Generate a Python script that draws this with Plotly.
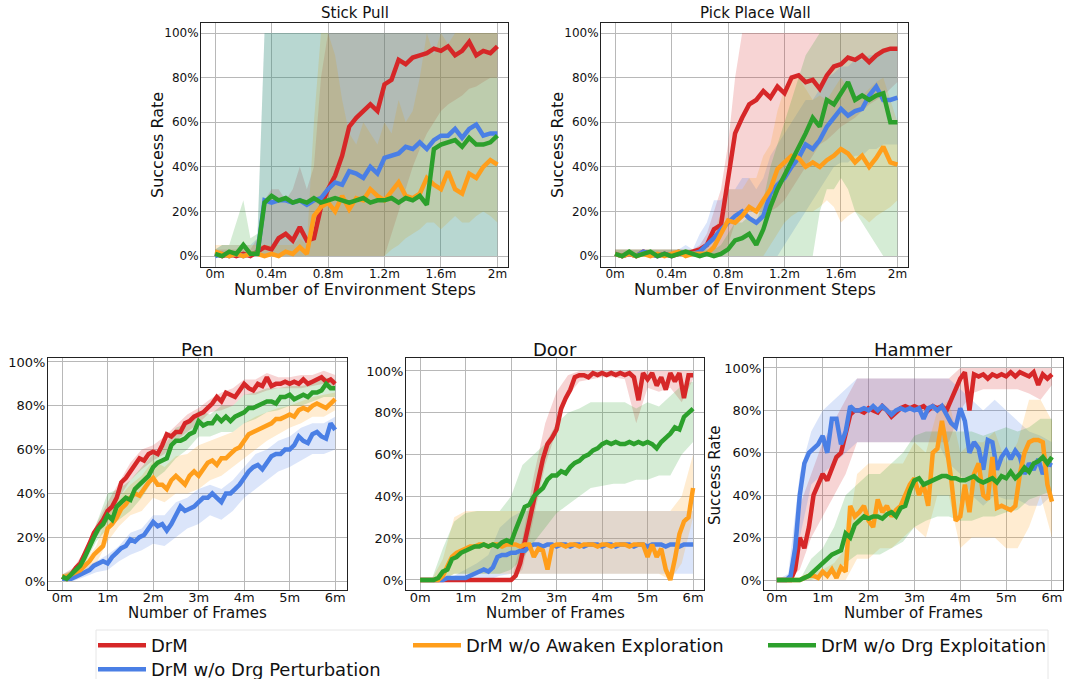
import plotly.graph_objects as go

# ---------------- series meta ----------------
SERIES = ["DrM", "DrM w/o Drg Perturbation", "DrM w/o Awaken Exploration", "DrM w/o Drg Exploitation"]
COLORS = ["#d62728", "#4a7fe5", "#ff9e1b", "#2ca02c"]
FILLS = ["rgba(214,39,40,0.2)", "rgba(74,127,229,0.2)", "rgba(255,158,27,0.2)", "rgba(44,160,44,0.2)"]

# x grids (millions of steps / frames)
top_steps = [round(0.05 * i, 2) for i in range(41)]
bottom_frames = [round(0.1 * i, 1) for i in range(61)]
bottom_band_frames = [round(0.25 * i, 2) for i in range(25)]

top_xticks = [0, 0.4, 0.8, 1.2, 1.6, 2.0]
top_xticklabels = ["0m", "0.4m", "0.8m", "1.2m", "1.6m", "2m"]
bottom_xticks = [0, 1, 2, 3, 4, 5, 6]
bottom_xticklabels = ["0m", "1m", "2m", "3m", "4m", "5m", "6m"]
yticks = [0, 20, 40, 60, 80, 100]
yticklabels = ["0%", "20%", "40%", "60%", "80%", "100%"]

# ---------------- Stick Pull ----------------
stick_red = [1,0,1,0,1,0,2,4,3,8,10,7,13,7,8,22,30,36,45,58,62,65,68,65,77,79,88,86,89,90,91,93,92,94,90,92,96,90,92,91,94]
stick_blue = [0,1,0,1,0,1,1,25,24,25,25,24,25,23,25,26,30,33,32,38,37,35,40,37,44,45,46,49,48,51,48,52,54,54,57,53,57,59,54,55,55]
stick_orange = [2,1,0,1,0,1,1,0,1,0,2,1,4,1,18,22,24,20,27,21,26,25,30,27,25,29,33,27,26,28,35,32,30,38,30,28,37,35,40,43,41]
stick_green = [1,0,2,1,5,1,1,24,27,25,26,24,25,24,26,24,25,26,25,24,25,26,24,25,25,26,24,26,25,27,23,48,50,51,52,49,53,50,50,51,54]

stick_red_hi = [3,3,3,3,3,3,8,25,30,30,25,30,40,30,40,80] + [100]*25
stick_red_lo = [0]*25 + [10,20,30,40,48,55,60,65,68,70,72,75,76,78,80,80]
stick_blue_hi = [3,5,5,5,5,5,8] + [100]*34
stick_blue_lo = [0]*41
stick_orange_hi = [5,5,5,5,5,5,5,5,5,5,5,5,8,5,60,100,100,90,70,55,50,60,55,50,60,55,70,60,65,80,100,90,100,95,100,100,100,100,100,100,100]
stick_orange_lo = [0]*25 + [3,5,8,10,12,15,15,12,15,18,15,15,18,20,18,15]
stick_green_hi = [3,5,5,15,25,8,10] + [100]*34
stick_green_lo = [0]*41

# ---------------- Pick Place Wall ----------------
ppw_red = [1,0,1,0,2,1,0,1,0,1,1,2,3,5,12,14,35,55,62,68,70,74,71,76,73,80,81,78,79,75,81,85,86,89,88,90,87,90,92,93,93]
ppw_blue = [1,0,1,0,2,1,0,1,0,2,1,1,2,5,8,12,15,18,20,17,15,18,28,32,35,40,44,50,48,52,58,62,66,63,65,66,72,76,70,70,71]
ppw_orange = [1,0,1,0,1,0,1,0,1,2,0,1,1,1,4,10,16,15,18,22,20,25,30,39,42,45,44,40,42,40,43,45,48,46,42,45,40,44,49,42,41]
ppw_green = [1,0,2,0,1,2,0,1,0,1,2,1,0,1,0,1,3,7,8,10,5,12,22,30,36,42,48,55,62,58,70,68,73,78,70,72,70,72,73,60,60]

ppw_red_hi = [3]*12 + [5,10,20,30,50,80,100] + [100]*22
ppw_red_lo = [0]*16 + [5,15,18,20,20,20,20,22,25,30,35,40,45,50,52,55,58,60,62,65,68,70,72,75,78]
ppw_blue_hi = [3,3,3,3,3,3,3,3,3,3,5,3,10,15,25,25,30,30,35,35,30,35,45,50,55,60,65,70,70,75,80,82,85,85,88,88,90,90,92,92,92]
ppw_blue_lo = [0]*24 + [5,10,15,20,25,30,35,40,42,42,45,45,48,48,50,50,50]
ppw_orange_hi = [3]*13 + [5,10,20,30,30,30,35,35,45,50,65,75,80,80,75,70,72,70,75,80,75,70,72,75,78,80,70,60]
ppw_orange_lo = [0]*22 + [5,10,15,18,20,20,20,22,25,22,15,18,20,18,15,18,20,22,25]
ppw_green_hi = [3]*15 + [5,10,15,15,18,15,25,40,50,60,70,80,90,95] + [100]*12
ppw_green_lo = [0]*29 + [20,30,30,35,30,20,15,10,5,0,0,0]

# ---------------- Pen ----------------
pen_red = [2,1,3,6,8,12,17,22,25,28,32,34,38,45,47,50,53,56,55,58,59,58,62,67,66,68,68,72,73,75,76,77,79,81,84,82,86,85,84,87,90,88,87,90,89,93,89,90,90,91,90,91,90,92,90,91,92,93,91,92,90]
pen_blue = [1,1,1,2,3,4,5,7,8,9,8,11,13,15,16,19,18,20,21,24,27,25,26,23,26,30,34,32,33,34,36,38,38,40,38,36,40,40,42,44,47,50,52,53,51,54,57,58,58,60,60,62,66,64,63,67,68,66,65,72,69]
pen_orange = [2,2,3,4,5,7,9,12,14,16,24,26,29,33,35,38,40,39,42,45,47,44,44,42,46,48,46,44,48,50,48,51,54,55,53,56,56,58,60,61,64,67,68,69,70,71,72,74,74,75,76,75,78,79,78,80,81,80,79,81,83]
pen_green = [2,1,3,5,7,11,16,20,24,26,30,28,34,36,38,37,42,44,46,48,52,54,55,56,62,64,64,65,67,68,73,71,72,72,75,73,75,73,75,76,77,79,79,80,81,82,82,81,84,84,85,83,84,85,84,86,86,87,90,88,88]

pen_red_hi = [3,6,14,26,36,45,54,60,62,66,71,76,79,83,86,88,92,92,95,93,93,94,94,96,94]
pen_red_lo = [1,2,9,20,27,38,46,51,55,58,64,68,72,77,78,80,85,85,87,88,88,88,89,90,88]
pen_blue_hi = [2,3,6,9,12,16,22,24,30,30,36,38,42,44,42,46,52,58,60,64,66,70,72,72,75]
pen_blue_lo = [0,0,2,4,5,9,12,14,17,16,20,24,26,30,28,32,38,42,46,50,52,55,58,58,60]
pen_orange_hi = [3,5,9,16,30,38,44,48,55,52,57,58,62,64,66,68,72,75,77,79,80,82,84,85,86]
pen_orange_lo = [1,2,4,8,18,25,30,32,38,36,40,40,42,46,48,52,56,60,64,67,70,72,75,75,78]
pen_green_hi = [3,5,13,26,40,42,46,52,58,62,70,72,78,76,80,80,85,86,88,88,89,89,90,93,92]
pen_green_lo = [1,2,8,18,24,28,32,38,46,50,56,60,66,66,68,68,72,74,77,78,80,80,82,84,84]

# ---------------- Door ----------------
door_red = [0]*21 + [2,8,18,28,38,50,58,65,68,72,82,87,91,97,98,98,97,99,98,99,98,99,98,99,98,99,97,86,99,96,99,93,97,91,99,95,99,87,98,98]
door_blue = [0,0,0,0,0,0,1,1,1,1,1,2,3,4,5,4,6,11,12,12,13,13,14,14,16,17,17,16,17,17,16,17,17,16,17,17,16,17,17,17,16,17,17,16,17,17,17,16,17,17,16,17,17,17,16,17,17,16,17,17,17]
door_orange = [0,0,0,0,0,2,6,11,13,14,15,16,16,17,17,16,17,17,16,17,17,17,16,17,17,11,15,14,5,16,17,17,16,17,17,16,17,17,17,16,17,17,16,17,17,17,16,17,17,17,11,17,11,15,5,0,10,22,28,30,44]
door_green = [0,0,0,0,1,4,5,10,11,13,14,15,16,16,17,16,17,16,18,19,18,24,29,35,36,40,42,44,48,50,50,52,51,54,56,57,59,60,62,63,65,66,65,66,65,65,66,65,66,65,66,65,63,66,68,70,73,72,78,80,82]

door_red_hi = [0,0,0,0,0,0,0,0,0,20,50,75,90,98,100,100,100,100,100,100,100,100,100,100,100]
door_red_lo = [0,0,0,0,0,0,0,0,0,5,30,55,72,88,95,96,97,97,96,75,92,90,92,85,96]
door_blue_hi = [0,0,0,2,5,8,12,25,30,33,33,33,33,33,33,33,33,33,33,33,33,33,33,33,33]
door_blue_lo = [0,0,0,0,0,0,0,2,3,3,3,3,3,3,3,3,3,3,3,3,3,3,3,3,3]
door_orange_hi = [0,0,10,30,33,33,33,33,33,33,33,33,33,33,33,33,33,33,33,33,33,33,33,40,60]
door_orange_lo = [0,0,0,3,3,3,3,3,3,3,3,3,3,3,3,3,3,3,3,3,3,3,0,8,30]
door_green_hi = [0,0,15,28,32,33,33,33,40,55,60,65,75,80,82,85,85,85,85,82,85,83,88,93,95]
door_green_lo = [0,0,0,3,3,3,3,3,5,10,18,25,32,36,40,44,45,46,46,48,48,50,50,60,66]

# ---------------- Hammer ----------------
hammer_red = [0,0,0,0,5,20,15,25,40,45,50,47,52,58,60,70,78,80,80,79,81,80,79,82,80,77,79,81,82,81,82,81,82,80,82,81,82,80,85,90,95,98,80,97,96,97,95,97,96,97,96,98,96,98,97,96,98,92,97,95,97]
hammer_blue = [0,0,0,2,15,40,55,60,62,64,68,60,76,76,64,70,82,80,80,81,80,82,80,82,80,78,80,81,80,81,80,81,76,81,82,80,82,78,74,72,81,75,60,65,62,52,66,65,52,58,61,57,61,58,50,55,52,57,50,55,54]
hammer_orange = [0,0,0,0,0,0,1,2,2,1,4,2,5,1,6,4,35,30,32,35,28,25,38,32,35,30,33,35,40,45,48,40,45,35,60,62,75,63,48,28,30,45,32,50,55,40,38,58,34,35,34,33,35,50,60,65,66,66,65,45,37]
hammer_green = [0,0,0,0,0,0,1,2,4,6,8,10,12,13,14,22,20,26,28,30,29,30,30,29,31,32,30,34,35,42,47,48,45,46,47,48,49,49,48,48,47,47,48,49,47,46,47,48,46,49,48,51,48,50,53,51,55,56,58,55,58]

hammer_red_hi = [0,0,35,50,65,75,85,95,95,95,95,95,95,95,95,95,100,100,100,100,100,100,100,100,100]
hammer_red_lo = [0,0,5,20,30,40,50,65,65,65,65,65,65,65,65,65,80,88,90,90,90,90,88,85,92]
hammer_blue_hi = [0,3,50,70,80,85,90,95,95,95,95,95,95,95,95,95,90,85,80,85,80,75,70,68,65]
hammer_blue_lo = [0,0,20,45,50,55,60,65,65,65,65,65,65,65,65,55,50,40,35,40,38,38,35,35,40]
hammer_orange_hi = [0,0,0,3,5,8,15,50,55,55,55,55,65,60,80,85,60,65,65,70,55,65,85,85,75]
hammer_orange_lo = [0,0,0,0,0,0,0,10,10,15,15,20,25,20,40,40,15,20,20,20,15,15,25,40,20]
hammer_green_hi = [0,0,0,10,15,25,40,45,50,50,55,60,68,70,70,70,70,70,68,70,72,70,72,76,76]
hammer_green_lo = [0,0,0,0,2,3,8,12,12,12,15,18,25,28,30,30,28,28,30,30,32,33,38,40,42]

# ---------------- layout helpers ----------------
W, H = 1068, 679
def px(x):
    return x / W
def py(y):
    return 1 - y / H

FONT = "DejaVu Sans"

panels = [
    dict(lx=top_steps, bx=top_steps,
         lines=[stick_red, stick_blue, stick_orange, stick_green],
         lo=[stick_red_lo, stick_blue_lo, stick_orange_lo, stick_green_lo],
         hi=[stick_red_hi, stick_blue_hi, stick_orange_hi, stick_green_hi],
         dom=(201, 508, 23, 267), xr=[-0.1, 2.075], yr=[-4.9, 104.5],
         xt=(top_xticks, top_xticklabels), tf=12, so=-4),
    dict(lx=top_steps, bx=top_steps,
         lines=[ppw_red, ppw_blue, ppw_orange, ppw_green],
         lo=[ppw_red_lo, ppw_blue_lo, ppw_orange_lo, ppw_green_lo],
         hi=[ppw_red_hi, ppw_blue_hi, ppw_orange_hi, ppw_green_hi],
         dom=(601, 908, 23, 267), xr=[-0.1, 2.075], yr=[-4.9, 104.5],
         xt=(top_xticks, top_xticklabels), tf=12, so=-4),
    dict(lx=bottom_frames, bx=bottom_band_frames,
         lines=[pen_red, pen_blue, pen_orange, pen_green],
         lo=[pen_red_lo, pen_blue_lo, pen_orange_lo, pen_green_lo],
         hi=[pen_red_hi, pen_blue_hi, pen_orange_hi, pen_green_hi],
         dom=(48, 347, 358, 590), xr=[-0.31, 6.26], yr=[-4.1, 101.8],
         xt=(bottom_xticks, bottom_xticklabels), tf=13, so=-5),
    dict(lx=bottom_frames, bx=bottom_band_frames,
         lines=[door_red, door_blue, door_orange, door_green],
         lo=[door_red_lo, door_blue_lo, door_orange_lo, door_green_lo],
         hi=[door_red_hi, door_blue_hi, door_orange_hi, door_green_hi],
         dom=(406, 704, 358, 590), xr=[-0.31, 6.24], yr=[-4.8, 106.2],
         xt=(bottom_xticks, bottom_xticklabels), tf=13, so=-5),
    dict(lx=bottom_frames, bx=bottom_band_frames,
         lines=[hammer_red, hammer_blue, hammer_orange, hammer_green],
         lo=[hammer_red_lo, hammer_blue_lo, hammer_orange_lo, hammer_green_lo],
         hi=[hammer_red_hi, hammer_blue_hi, hammer_orange_hi, hammer_green_hi],
         dom=(764, 1063, 358, 590), xr=[-0.28, 6.24], yr=[-4.7, 104.7],
         xt=(bottom_xticks, bottom_xticklabels), tf=13, so=-5),
]

# one legend box per legend slot (matplotlib-like 3-column layout)
legend_of = ["legend", "legend4", "legend2", "legend3"]

fig = go.Figure()
layout = {}
for i, p in enumerate(panels):
    n = "" if i == 0 else str(i + 1)
    xa, ya = "x" + n, "y" + n
    for k in range(4):
        bx = p["bx"]
        fig.add_trace(go.Scatter(
            x=list(bx) + list(bx)[::-1], y=list(p["hi"][k]) + list(p["lo"][k])[::-1],
            fill="toself", fillcolor=FILLS[k], line=dict(width=0), mode="lines",
            hoverinfo="skip", showlegend=False, xaxis=xa, yaxis=ya))
    for k in range(4):
        fig.add_trace(go.Scatter(
            x=p["lx"], y=p["lines"][k], mode="lines", name=SERIES[k],
            line=dict(color=COLORS[k], width=4.5),
            showlegend=(i == 0), legend=legend_of[k], xaxis=xa, yaxis=ya))
    x0, x1, y0, y1 = p["dom"]
    axis_common = dict(showline=True, linecolor="#222222", linewidth=1, mirror=True,
                       showgrid=True, gridcolor="#b8b8b8", gridwidth=1.2, zeroline=False,
                       ticks="", automargin=False,
                       tickfont=dict(size=p["tf"], family=FONT, color="#111"))
    layout["xaxis" + n] = dict(domain=[px(x0), px(x1)], range=p["xr"], anchor=ya,
                               tickvals=p["xt"][0], ticktext=p["xt"][1],
                               ticklabelstandoff=p["so"], **axis_common)
    layout["yaxis" + n] = dict(domain=[py(y1), py(y0)], range=p["yr"], anchor=xa,
                               tickvals=yticks, ticktext=yticklabels,
                               ticklabelstandoff=-1, **axis_common)

annotations = []
def ann(text, x, y, size, angle=0):
    annotations.append(dict(text=text, x=px(x), y=py(y), xref="paper", yref="paper",
                            xanchor="center", yanchor="middle", showarrow=False,
                            textangle=angle, font=dict(size=size, family=FONT, color="#111")))

ann("Stick Pull", 355, 13, 15)
ann("Pick Place Wall", 755, 13, 15)
ann("Pen", 197, 350, 18)
ann("Door", 555, 350, 18)
ann("Hammer", 913, 350, 18)
ann("Number of Environment Steps", 355, 289, 16)
ann("Number of Environment Steps", 755, 289, 16)
ann("Number of Frames", 197, 613, 15)
ann("Number of Frames", 555, 613, 15)
ann("Number of Frames", 913, 613, 15)
ann("Success Rate", 157, 145, 16, -90)
ann("Success Rate", 557, 145, 16, -90)
ann("Success Rate", 715, 475, 15, -90)

leg_common = dict(yanchor="top", xanchor="left", bgcolor="rgba(0,0,0,0)",
                  font=dict(size=18, family=FONT, color="#111"), itemwidth=48,
                  orientation="v", tracegroupgap=0)

fig.update_layout(
    width=W, height=H, margin=dict(l=0, r=0, t=0, b=0, pad=0, autoexpand=False),
    paper_bgcolor="white", plot_bgcolor="white",
    annotations=annotations,
    legend=dict(x=px(93), y=py(627), **leg_common),
    legend2=dict(x=px(408), y=py(627), **leg_common),
    legend3=dict(x=px(763), y=py(627), **leg_common),
    legend4=dict(x=px(93), y=py(651), **leg_common),
    shapes=[dict(type="rect", xref="paper", yref="paper", x0=px(96), x1=px(1048),
                 y0=py(690), y1=py(630), line=dict(color="#e6e6e6", width=1),
                 fillcolor="rgba(0,0,0,0)", layer="below")],
    **layout,
)

fig.write_html("out.html", config={"displayModeBar": False},
               post_script="document.body.style.margin='0px';")
